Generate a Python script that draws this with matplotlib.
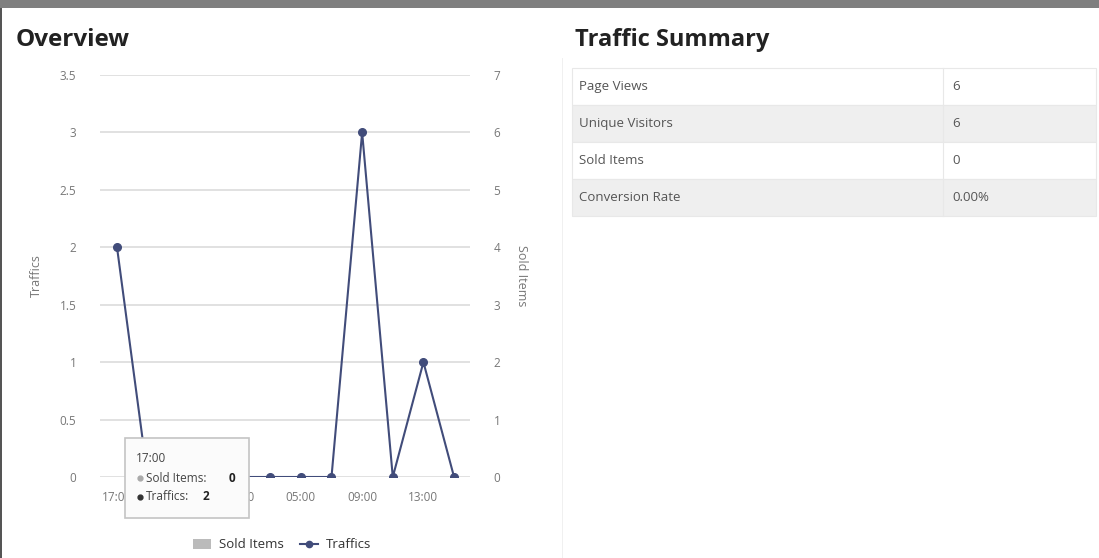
import matplotlib.pyplot as plt
from matplotlib.patches import Rectangle
from matplotlib.lines import Line2D
import numpy as np

plt.rcParams['font.family'] = ['Open Sans', 'DejaVu Sans']

hours = ['17:00', '19:00', '21:00', '23:00', '01:00', '03:00',
         '05:00', '07:00', '09:00', '11:00', '13:00', '15:00']
traffics = [2, 0, 0, 0, 0, 0, 0, 0, 3, 0, 1, 0]
sold_items = [0, 0, 0, 0, 0, 0, 0, 0, 0, 0, 0, 0]

summary_labels = ['Page Views', 'Unique Visitors', 'Sold Items', 'Conversion Rate']
summary_values = ['6', '6', '0', '0.00%']

W, H = 1099, 558
LINE = '#414c7a'
GRID = '#dcdcdc'
TICK = '#777777'

fig = plt.figure(figsize=(W / 100, H / 100), dpi=100)
fig.patch.set_facecolor('white')


def fx(px):
    return px / W


def fy(py):
    return 1 - py / H


# page chrome
fig.patches.append(Rectangle((0, fy(8)), 1, 8 / H, transform=fig.transFigure,
                             facecolor='#7f7f7f', edgecolor='none', zorder=0))
fig.patches.append(Rectangle((0, 0), 2 / W, fy(8), transform=fig.transFigure,
                             facecolor='#555555', edgecolor='none', zorder=0))
fig.patches.append(Rectangle((fx(562), 0), 1 / W, fy(58), transform=fig.transFigure,
                             facecolor='#f0f0f0', edgecolor='none', zorder=0))

fig.text(fx(16), fy(46), 'Overview', fontsize=17.5, fontweight='bold',
         color='#222222', va='baseline', ha='left')
fig.text(fx(575), fy(46), 'Traffic Summary', fontsize=17, fontweight='bold',
         color='#222222', va='baseline', ha='left')

# chart
ax = fig.add_axes([fx(100), 1 - 477 / H, 370 / W, 402 / H])
ax2 = ax.twinx()
x = np.arange(len(hours))

ax2.bar(x, sold_items, width=0.6, color='#bbbbbb')
ax2.set_ylim(0, 7)
ax2.set_yticks(range(0, 8))

ax.set_zorder(ax2.get_zorder() + 1)
ax.patch.set_visible(False)
ax.plot(x, traffics, color=LINE, lw=1.5, marker='o', ms=5.5, zorder=3)
ax.set_ylim(0, 3.5)
ax.set_yticks(np.arange(0, 3.51, 0.5))
ax.set_yticklabels(['0', '0.5', '1', '1.5', '2', '2.5', '3', '3.5'])
ax.set_xlim(-0.555, 11.52)
ax.set_xticks(x[::2])
ax.set_xticklabels(hours[::2])
ax.grid(axis='y', color=GRID, lw=1.2)
ax.set_axisbelow(True)

for a in (ax, ax2):
    for s in a.spines.values():
        s.set_visible(False)
    a.tick_params(length=0, colors=TICK, labelsize=8.5)
ax.tick_params(axis='y', pad=17)
ax.tick_params(axis='x', pad=10)
ax2.tick_params(axis='y', pad=17)

ax.set_ylabel('Traffics', color=TICK, fontsize=9, labelpad=12)
ax2.set_ylabel('Sold Items', color=TICK, fontsize=9, rotation=270, labelpad=20)

# tooltip
fig.patches.append(Rectangle((fx(125), fy(518)), 124 / W, 80 / H,
                             transform=fig.transFigure, facecolor='#fbfbfb',
                             edgecolor='#c4c4c4', lw=1.2, zorder=5))
fig.text(fx(136), fy(459), '17:00', fontsize=8.5, color='#444444',
         va='center', zorder=6)
fig.lines.append(Line2D([fx(140)], [fy(478)], marker='o', ms=3.5, color='#aaaaaa',
                        transform=fig.transFigure, zorder=6))
fig.text(fx(146), fy(478), 'Sold Items:', fontsize=8.5, color='#444444',
         va='center', zorder=6)
fig.text(fx(229), fy(478), '0', fontsize=8.5, color='#222222', fontweight='bold',
         va='center', zorder=6)
fig.lines.append(Line2D([fx(140)], [fy(497)], marker='o', ms=3.5, color='#333333',
                        transform=fig.transFigure, zorder=6))
fig.text(fx(146), fy(497), 'Traffics:', fontsize=8.5, color='#444444',
         va='center', zorder=6)
fig.text(fx(203), fy(497), '2', fontsize=8.5, color='#222222', fontweight='bold',
         va='center', zorder=6)

# legend
handles = [Rectangle((0, 0), 1, 1, facecolor='#bbbbbb', edgecolor='none'),
           Line2D([], [], color=LINE, lw=1.5, marker='o', ms=4.5)]
fig.legend(handles, ['Sold Items', 'Traffics'], loc='center',
           bbox_to_anchor=(fx(282), fy(545)), ncol=2, frameon=False,
           fontsize=9.5, labelcolor='#333333', handlelength=1.4,
           columnspacing=1.2, handletextpad=0.6)

# summary table
row_h = 37
top = 68
for i, (lab, val) in enumerate(zip(summary_labels, summary_values)):
    y0 = top + i * row_h
    fc = '#ffffff' if i % 2 == 0 else '#efefef'
    fig.patches.append(Rectangle((fx(572), fy(y0 + row_h)), (1096 - 572) / W, row_h / H,
                                 transform=fig.transFigure, facecolor=fc,
                                 edgecolor='#e8e8e8', lw=0.8, zorder=1))
    fig.text(fx(579), fy(y0 + row_h / 2), lab, fontsize=9.5, color='#555555',
             va='center', ha='left', zorder=2)
    fig.text(fx(952), fy(y0 + row_h / 2), val, fontsize=9.5, color='#555555',
             va='center', ha='left', zorder=2)
fig.lines.append(Line2D([fx(943), fx(943)], [fy(top), fy(top + 4 * row_h)],
                        color='#e8e8e8', lw=0.8, transform=fig.transFigure, zorder=2))

fig.savefig('out.png', dpi=100)
